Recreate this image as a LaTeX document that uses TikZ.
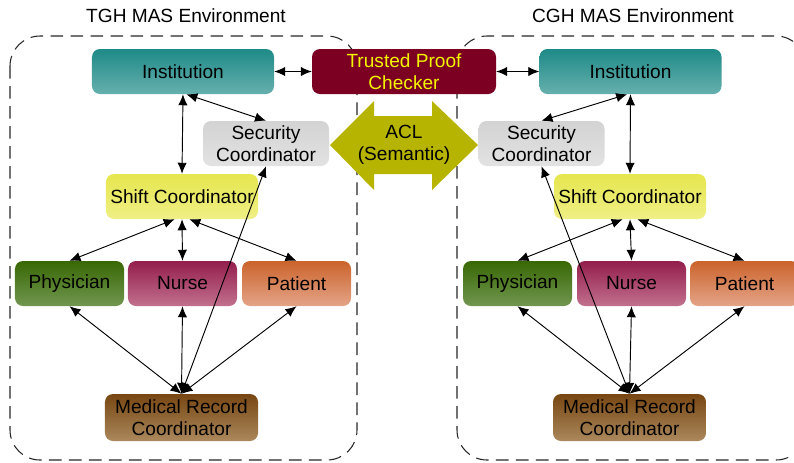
\documentclass[tikz,border=0pt]{standalone}
\usepackage{fontspec}
\setmainfont{Liberation Sans}
\usetikzlibrary{arrows.meta}

\definecolor{instTop}{HTML}{1E8A87}
\definecolor{instBot}{HTML}{66B0AE}
\definecolor{secTop}{HTML}{D3D3D3}
\definecolor{secBot}{HTML}{E2E2E2}
\definecolor{shiftTop}{HTML}{E6E64E}
\definecolor{shiftBot}{HTML}{EFEF86}
\definecolor{phyTop}{HTML}{386804}
\definecolor{phyBot}{HTML}{719650}
\definecolor{nurTop}{HTML}{931E4C}
\definecolor{nurBot}{HTML}{C2708E}
\definecolor{patTop}{HTML}{CB632B}
\definecolor{patBot}{HTML}{E4A488}
\definecolor{mrcTop}{HTML}{774612}
\definecolor{mrcBot}{HTML}{AB885C}
\definecolor{tpcFill}{HTML}{7B0022}
\definecolor{tpcText}{HTML}{F4F400}
\definecolor{aclFill}{HTML}{B7B400}

\tikzset{
  agent/.style={rounded corners=0.24cm, minimum height=1.35cm, align=center,
    inner sep=2pt, font=\fontsize{16.3}{19}\selectfont},
  inst/.style={agent, minimum width=5.46cm, top color=instTop, bottom color=instBot},
  secu/.style={agent, minimum width=3.78cm, top color=secTop, bottom color=secBot},
  shiftbox/.style={agent, minimum width=4.56cm, top color=shiftTop, bottom color=shiftBot},
  phys/.style={agent, minimum width=3.27cm, top color=phyTop, bottom color=phyBot},
  nurs/.style={agent, minimum width=3.27cm, top color=nurTop, bottom color=nurBot},
  pati/.style={agent, minimum width=3.27cm, top color=patTop, bottom color=patBot},
  medrec/.style={agent, minimum width=4.59cm, minimum height=1.41cm, top color=mrcTop, bottom color=mrcBot},
  checker/.style={agent, minimum width=5.52cm, fill=tpcFill, text=tpcText},
  link/.style={{Latex[length=3.3mm,width=2.8mm]}-{Latex[length=3.3mm,width=2.8mm]}, line width=0.8pt},
  envbox/.style={draw=black!85, line width=0.9pt, dash pattern=on 0.38cm off 0.22cm, rounded corners=0.9cm},
  envtitle/.style={font=\fontsize{16.3}{19}\selectfont},
}

\begin{document}
\begin{tikzpicture}[x=0.03cm, y=-0.03cm]
\useasboundingbox (0,0) rectangle (794,462);
\clip (0,0) rectangle (794,462);

% the two environments
\draw[envbox] (10,36) rectangle (357,460);
\draw[envbox] (457,36) rectangle (806,460);
\node[envtitle] (titleL) at (186,16) {TGH MAS Environment};
\node[envtitle] (titleR) at (633,16) {CGH MAS Environment};

% ACL between the security coordinators
\fill[aclFill] (330,145) -- (374,101) -- (374,116) -- (432,116) -- (432,101)
  -- (478,145) -- (432,190) -- (432,174) -- (374,174) -- (374,190) -- cycle;
\node[agent] (acl) at (404,145) {ACL\\(Semantic)};

% TGH agents
\node[inst]     (instL)  at (183,71.5)   {Institution};
\node[secu]     (secL)   at (266,143.5)  {Security\\Coordinator};
\node[shiftbox] (shiftL) at (182,196.5)  {Shift Coordinator};
\node[phys]     (phyL)   at (69.5,283.5) {Physician};
\node[nurs]     (nurL)   at (182.5,283.5){Nurse};
\node[pati]     (patL)   at (296.5,283.5){Patient};
\node[medrec]   (mrcL)   at (181.5,417.5){Medical Record\\Coordinator};

\node[checker] (tpc) at (404,71.5) {Trusted Proof\\Checker};

% CGH agents
\node[inst]     (instR)  at (630.5,71.5) {Institution};
\node[secu]     (secR)   at (541.5,143.5){Security\\Coordinator};
\node[shiftbox] (shiftR) at (630,196.5)  {Shift Coordinator};
\node[phys]     (phyR)   at (517.5,283.5){Physician};
\node[nurs]     (nurR)   at (631.5,283.5){Nurse};
\node[pati]     (patR)   at (744.5,283.5){Patient};
\node[medrec]   (mrcR)   at (629.5,417.5){Medical Record\\Coordinator};

% links
\draw[link] (instL.east) -- (tpc.west);
\draw[link] (tpc.east) -- (instR.west);

\draw[link] (instL.south) -- (shiftL.north);
\draw[link] ([xshift=0.1cm]instL.south) -- (secL.north);
\draw[link] ([xshift=-0.22cm]shiftL.south) -- (phyL.north);
\draw[link] (shiftL.south) -- (nurL.north);
\draw[link] ([xshift=0.22cm]shiftL.south) -- (patL.north);
\draw[link] (phyL.south) -- (mrcL.north);
\draw[link] (nurL.south) -- (mrcL.north);
\draw[link] (patL.south) -- (mrcL.north);
\draw[link] (secL.south) -- (mrcL.north);

\draw[link] (instR.south) -- (shiftR.north);
\draw[link] ([xshift=-0.1cm]instR.south) -- (secR.north);
\draw[link] ([xshift=-0.22cm]shiftR.south) -- (phyR.north);
\draw[link] (shiftR.south) -- (nurR.north);
\draw[link] ([xshift=0.22cm]shiftR.south) -- (patR.north);
\draw[link] (phyR.south) -- (mrcR.north);
\draw[link] (nurR.south) -- (mrcR.north);
\draw[link] (patR.south) -- (mrcR.north);
\draw[link] (secR.south) -- (mrcR.north);
\end{tikzpicture}
\end{document}
